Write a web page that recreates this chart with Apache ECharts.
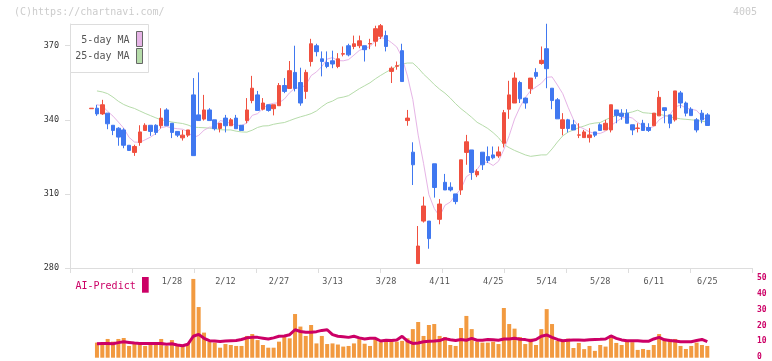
<!DOCTYPE html>
<html><head><meta charset="utf-8">
<script src="https://cdn.jsdelivr.net/npm/echarts@6/dist/echarts.min.js"></script>
<style>html,body{margin:0;padding:0;background:#fff}#c{width:772px;height:361px}</style>
</head><body><div id="c"></div>
<script>
const dates = ['1/6','1/7','1/8','1/9','1/10','1/14','1/15','1/16','1/17','1/20','1/21','1/22','1/23','1/24','1/27','1/28','1/29','1/30','1/31',
'2/3','2/4','2/5','2/6','2/7','2/10','2/12','2/13','2/14','2/17','2/18','2/19','2/20','2/21','2/25','2/26','2/27','2/28',
'3/3','3/4','3/5','3/6','3/7','3/10','3/11','3/12','3/13','3/14','3/17','3/18','3/19','3/21','3/24','3/25','3/26','3/27','3/28','3/31',
'4/1','4/2','4/3','4/4','4/7','4/8','4/9','4/10','4/11','4/14','4/15','4/16','4/17','4/18','4/21','4/22','4/23','4/24','4/25','4/28','4/30',
'5/1','5/2','5/7','5/8','5/9','5/12','5/13','5/14','5/15','5/16','5/19','5/20','5/21','5/22','5/23','5/26','5/27','5/28','5/29','5/30',
'6/2','6/3','6/4','6/5','6/6','6/9','6/10','6/11','6/12','6/13','6/16','6/17','6/18','6/19','6/20','6/23','6/24','6/25'];

const dateLabels = ['1/28','2/12','2/27','3/13','3/28','4/11','4/25','5/14','5/28','6/11','6/25'];
const priceTicks = [280, 310, 340, 370];
const volumeTicks = [0, 10, 20, 30, 40, 50];

const opens = [344.5,344.7,342.4,342.7,337.8,336.6,335.9,329.7,326.8,330.8,
335.7,337.8,337.8,337.6,344.0,338.6,335.3,332.7,333.8,350.1,
342.0,340.3,344.0,340.0,336.5,340.7,337.6,340.7,337.8,339.7,
347.8,350.1,344.3,346.1,344.5,345.7,353.9,352.7,359.2,355.1,
351.5,363.6,370.0,364.7,363.2,363.9,361.6,366.6,370.0,369.7,
370.0,370.0,370.7,371.8,373.8,374.1,359.6,361.7,368.0,339.7,
326.9,281.8,299.0,299.0,322.2,299.7,314.7,312.7,310.0,311.6,
326.8,327.8,317.7,326.9,325.1,325.8,325.4,330.5,344.3,346.8,
355.1,348.8,352.6,359.2,362.8,368.8,352.8,348.1,336.5,340.0,
338.0,333.8,332.8,332.8,335.1,338.0,335.9,335.9,344.0,342.7,
342.7,338.0,336.5,338.6,336.9,337.6,341.6,344.9,342.0,340.0,
350.9,346.8,344.3,340.0,342.7,342.0];
const closes = [344.7,342.4,346.1,338.4,335.7,333.0,329.7,327.6,329.2,335.1,
337.8,335.3,334.9,340.7,337.6,334.9,333.8,333.8,335.9,325.5,
339.7,344.0,339.7,336.4,338.6,337.6,340.0,336.4,335.7,344.0,
352.8,343.8,346.8,343.8,346.1,353.9,351.5,359.9,352.7,346.8,
359.2,370.8,367.6,363.6,361.6,362.6,364.7,366.8,366.3,370.8,
372.0,368.4,370.9,376.9,378.1,369.7,360.9,361.9,355.5,340.7,
321.8,288.9,305.1,291.9,312.6,305.9,311.6,311.6,306.9,323.8,
331.1,318.7,319.1,321.8,323.5,324.6,327.0,342.9,350.1,356.9,
348.5,346.8,356.9,357.6,364.1,360.7,347.8,340.4,340.0,336.5,
335.9,333.9,335.1,333.9,333.8,335.7,338.6,346.1,341.7,341.4,
338.6,335.9,336.7,335.7,335.7,342.7,349.1,343.8,338.6,351.7,
346.8,342.7,341.7,335.9,340.0,337.7];
const lows = [344.5,341.6,342.0,336.2,333.8,329.5,328.5,327.6,325.4,329.5,
335.7,333.5,333.9,336.5,337.6,332.6,333.0,331.6,333.0,325.5,
339.7,339.7,339.7,335.7,334.9,334.9,337.6,336.4,335.7,338.6,
346.7,343.8,343.8,343.3,341.8,345.7,350.8,352.7,351.5,345.7,
348.5,361.6,365.7,357.6,360.9,360.9,360.9,365.7,365.7,368.6,
369.0,363.6,368.6,369.7,372.7,367.7,354.9,360.3,355.5,337.6,
313.6,281.8,298.4,287.8,308.5,297.7,311.6,311.0,305.8,309.6,
321.8,315.7,316.8,319.7,322.5,324.0,324.6,328.8,340.4,346.8,
346.8,344.5,350.5,356.6,362.3,352.8,344.3,340.4,333.7,334.9,
335.9,332.6,332.8,330.8,333.0,335.7,335.9,334.9,338.6,340.0,
338.6,333.8,334.9,335.7,335.1,337.6,341.6,338.6,336.6,339.3,
344.7,341.4,341.7,334.9,338.6,337.7];
const highs = [344.7,346.1,348.1,342.7,337.8,337.0,336.6,329.7,329.9,337.8,
338.6,337.8,338.2,344.7,344.7,338.6,335.3,335.9,335.9,356.9,
359.2,350.1,344.7,340.0,338.6,342.0,340.7,342.0,337.8,348.8,
357.8,351.7,348.8,346.1,346.1,354.9,356.9,363.8,370.0,361.1,
360.3,372.8,370.8,367.7,367.7,368.0,367.0,369.7,370.8,374.1,
374.1,370.0,372.8,378.1,378.8,376.1,361.6,363.6,370.8,344.0,
330.9,297.0,308.9,299.0,322.2,307.9,318.1,314.7,310.0,323.8,
333.9,327.8,320.0,326.9,329.2,329.2,329.2,344.0,355.8,359.2,
355.8,349.0,356.9,360.9,369.7,378.9,352.8,348.8,342.7,340.4,
340.0,338.6,335.9,336.6,335.1,338.6,340.0,346.1,344.0,344.3,
344.3,338.0,338.6,340.0,338.6,342.7,351.7,344.9,342.0,351.7,
351.7,347.4,345.1,340.7,344.0,342.7];

const ma5 = ['-',346.1,345.7,343.4,341.5,339.1,336.6,332.9,331.0,330.9,
331.9,333.0,334.5,336.8,337.3,336.7,336.4,336.2,335.2,332.8,
333.7,335.8,337.0,337.1,339.7,339.3,338.5,337.8,337.7,338.7,
341.8,342.5,344.6,346.2,346.7,346.9,348.4,351.0,352.8,353.0,
354.0,357.9,359.4,361.6,364.6,365.2,364.0,363.9,364.4,366.2,
368.1,368.9,369.7,371.8,373.3,372.8,371.3,369.5,365.2,357.7,
348.2,333.8,322.4,309.7,304.1,300.9,305.4,306.7,309.7,312.0,
317.0,318.4,319.9,322.9,322.8,321.5,323.2,328.0,333.6,340.3,
345.1,349.0,351.8,353.3,354.8,357.2,357.4,354.1,350.6,345.1,
340.1,337.3,336.3,335.1,334.5,334.5,335.4,337.6,339.2,340.7,
341.3,340.7,338.9,337.7,336.5,337.3,340.0,341.4,342.0,345.2,
346.0,344.7,344.3,343.8,341.4,339.6];
const ma25 = ['-',351.7,351.3,350.6,349.2,347.5,346.2,345.3,344.6,343.6,
342.6,341.7,340.8,340.0,339.6,339.1,338.8,338.5,337.9,337.0,
336.9,336.8,336.6,336.5,336.0,335.9,335.9,335.4,335.1,335.0,
335.8,336.9,337.5,337.6,338.2,338.6,338.9,339.7,340.5,341.2,
341.8,342.5,343.6,345.3,346.8,347.6,348.8,349.2,349.8,351.2,
352.6,353.8,355.0,356.6,358.0,359.3,360.5,361.8,362.6,363.0,
363.0,361.0,358.5,356.5,354.3,352.4,350.8,348.8,346.5,344.5,
342.8,341.0,339.0,337.8,336.5,334.8,332.8,330.0,328.7,327.6,
326.7,325.8,325.2,325.5,325.8,325.8,328.2,331.0,333.5,335.0,
335.9,336.8,337.5,338.3,338.7,338.9,340.0,341.0,341.7,342.3,
342.7,343.2,343.9,342.9,342.7,342.5,342.2,341.8,341.2,340.8,
340.4,340.2,340.0,339.8,339.4,339.1];

const volume = ['-',9.5,9.5,11.8,10.1,11.8,12.4,7.4,9.5,9.5,
7.4,9.5,9.5,11.8,7.4,11.1,7.4,7.4,9.0,49.6,
31.9,15.8,10.1,9.5,6.3,8.6,8.0,7.4,7.4,13.7,
14.9,11.1,8.0,6.3,6.3,10.1,13.7,12.2,27.5,19.6,
13.7,20.6,9.0,13.7,8.6,9.0,8.3,7.0,7.4,9.0,
11.7,8.8,7.4,11.7,9.8,11.7,11.7,10.1,10.6,12.2,
18.0,22.5,13.7,20.6,21.2,13.7,13.0,8.0,7.4,18.7,
26.3,18.0,10.1,9.5,9.5,10.1,8.6,31.3,21.2,18.3,
13.0,8.6,12.0,8.0,18.0,30.6,21.2,10.6,10.1,12.0,
6.1,9.3,5.4,7.4,4.3,8.0,7.0,14.3,9.3,8.0,
10.1,9.8,4.9,5.5,4.9,8.0,14.9,12.0,11.8,11.8,
7.4,5.5,7.4,9.5,8.0,7.4];
const aiPredict = ['-',8.8,9.0,9.0,8.8,9.5,10.0,9.6,9.2,9.0,
9.0,9.0,9.0,9.0,8.5,8.8,8.0,7.5,8.5,13.5,
14.7,12.2,10.7,10.5,10.2,10.5,10.7,10.8,11.5,12.5,
12.8,12.8,12.3,11.8,12.5,13.5,13.7,14.5,17.6,16.5,
16.0,16.0,16.4,17.2,17.6,14.5,13.5,13.2,12.8,13.5,
12.5,11.8,12.2,12.2,10.5,11.0,10.8,11.2,13.5,10.5,
9.0,9.3,10.0,10.3,10.5,10.8,12.0,11.3,10.8,11.5,
11.0,12.2,11.0,11.0,11.5,11.3,11.0,11.8,11.8,12.2,
11.6,11.4,10.7,11.5,13.5,14.3,12.8,11.5,10.7,11.0,
11.1,11.1,11.0,11.3,11.5,11.6,11.8,13.7,12.2,11.2,
10.7,10.7,10.7,10.3,10.3,11.8,12.8,11.3,10.8,10.5,
10.1,10.1,10.1,10.8,11.5,10.1];

const mono = '"DejaVu Sans Mono", monospace';
const RED = '#f0503f', BLUE = '#4078f0', PINK = '#e6b4e6', GREEN = '#b6dcaa', ORANGE = '#f29a40', CRIMSON = '#cc0066';
const PMIN = 280, PMAX = 378.8;

const candles = dates.map((d, i) => [opens[i], closes[i], lows[i], highs[i]]);

const chart = echarts.init(document.getElementById('c'), null, {renderer: 'canvas'});
chart.setOption({
  animation: false,
  backgroundColor: '#fff',
  grid: [
    {left: 91.6, right: 64.7, top: 24, bottom: 93},
    {left: 70, right: 20, top: 24, bottom: 93},
    {left: 91.6, right: 64.7, top: 278.3, bottom: 3.3},
    {left: 70, right: 20, top: 278.3, bottom: 3.3}
  ],
  xAxis: [
    {type: 'category', gridIndex: 0, data: dates, boundaryGap: false, show: false},
    {type: 'value', gridIndex: 1, min: 0, max: 11, interval: 1,
      axisLine: {show: true, lineStyle: {color: '#dddddd', width: 1}},
      axisTick: {show: true, length: 5, lineStyle: {color: '#dddddd'}},
      axisLabel: {show: false}, splitLine: {show: false}},
    {type: 'category', gridIndex: 2, data: dates, boundaryGap: false, position: 'top', offset: -14,
      axisLine: {show: false}, axisTick: {show: false}, splitLine: {show: false},
      axisLabel: {interval: (i, v) => dateLabels.includes(v), margin: 6, color: '#555', fontFamily: mono, fontSize: 8.5}},
    {type: 'value', gridIndex: 3, min: 0, max: 1, show: false}
  ],
  yAxis: [
    {type: 'value', gridIndex: 0, min: PMIN, max: PMAX, show: false},
    {type: 'value', gridIndex: 1, min: PMIN, max: PMAX,
      axisLine: {show: true, lineStyle: {color: '#dddddd', width: 1}},
      axisTick: {show: true, length: 5, lineStyle: {color: '#dddddd'}, customValues: priceTicks},
      axisLabel: {customValues: priceTicks, margin: 11, color: '#333', fontFamily: mono, fontSize: 8.5},
      splitLine: {show: false}},
    {type: 'value', gridIndex: 2, min: 0, max: 50, show: false},
    {type: 'value', gridIndex: 3, min: 0, max: 50, position: 'right',
      axisLine: {show: false}, axisTick: {show: false}, splitLine: {show: false},
      axisLabel: {customValues: volumeTicks, margin: 5, color: CRIMSON, fontFamily: mono, fontSize: 8, fontWeight: 'bold'}}
  ],
  series: [
    {name: '25-day MA', type: 'line', xAxisIndex: 0, yAxisIndex: 0, data: ma25, showSymbol: false,
      lineStyle: {color: GREEN, width: 1}, z: 1},
    {name: '5-day MA', type: 'line', xAxisIndex: 0, yAxisIndex: 0, data: ma5, showSymbol: false,
      lineStyle: {color: PINK, width: 1}, z: 1},
    {name: 'price', type: 'candlestick', xAxisIndex: 0, yAxisIndex: 0, data: candles, barWidth: 4, clip: false,
      itemStyle: {color: RED, color0: BLUE, borderColor: RED, borderColor0: BLUE, borderWidth: 1}, z: 3},
    {name: 'volume', type: 'bar', xAxisIndex: 2, yAxisIndex: 2, data: volume, barWidth: 4,
      itemStyle: {color: ORANGE}, z: 2},
    {name: 'AI-Predict', type: 'line', xAxisIndex: 2, yAxisIndex: 2, data: aiPredict, showSymbol: false,
      lineStyle: {color: CRIMSON, width: 3}, z: 3}
  ],
  graphic: [
    {type: 'text', x: 14, y: 12.7, style: {text: '(C)https://chartnavi.com/', fill: '#cccccc', font: '10px ' + mono,
      textAlign: 'left', align: 'left', textVerticalAlign: 'middle', verticalAlign: 'middle'}},
    {type: 'text', x: 757, y: 12, style: {text: '4005', fill: '#cccccc', font: '10px ' + mono,
      textAlign: 'right', align: 'right', textVerticalAlign: 'middle', verticalAlign: 'middle'}},
    {type: 'rect', shape: {x: 70.5, y: 24.5, width: 78, height: 48}, style: {fill: '#fff', stroke: '#dddddd', lineWidth: 1}, z: 10},
    {type: 'text', x: 129.5, y: 40, z: 11, style: {text: '5-day MA', fill: '#555', font: '10px ' + mono,
      textAlign: 'right', align: 'right', textVerticalAlign: 'middle', verticalAlign: 'middle'}},
    {type: 'text', x: 129.5, y: 56.5, z: 11, style: {text: '25-day MA', fill: '#555', font: '10px ' + mono,
      textAlign: 'right', align: 'right', textVerticalAlign: 'middle', verticalAlign: 'middle'}},
    {type: 'rect', z: 11, shape: {x: 136.5, y: 31.5, width: 6, height: 15}, style: {fill: PINK, stroke: '#666', lineWidth: 1}},
    {type: 'rect', z: 11, shape: {x: 136.5, y: 48.5, width: 6, height: 15}, style: {fill: GREEN, stroke: '#666', lineWidth: 1}},
    {type: 'text', x: 75.5, y: 286.7, z: 11, style: {text: 'AI-Predict', fill: CRIMSON, font: '10px ' + mono,
      textAlign: 'left', align: 'left', textVerticalAlign: 'middle', verticalAlign: 'middle'}},
    {type: 'rect', z: 11, shape: {x: 142, y: 277, width: 6.7, height: 15.7}, style: {fill: CRIMSON}}
  ]
});
</script>
</body></html>
